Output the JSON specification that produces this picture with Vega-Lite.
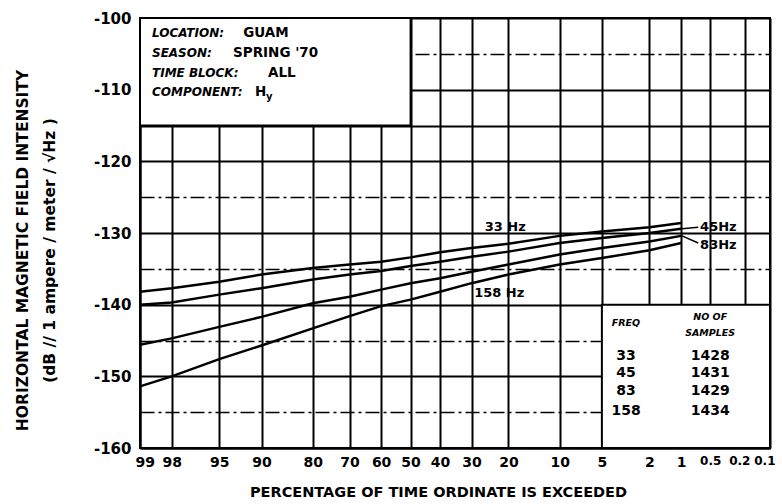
{
  "$schema": "https://vega.github.io/schema/vega-lite/v6.json",
  "width": 630,
  "height": 430,
  "autosize": {"type": "none"},
  "padding": {"left": 140, "top": 18, "right": 12, "bottom": 56},
  "background": "white",
  "config": {"view": {"stroke": "black", "strokeWidth": 2}, "font": "DejaVu Sans"},
  "datasets": {
    "curves": [
      {"freq": "33 Hz", "pct": 99, "db": -138.2}, {"freq": "33 Hz", "pct": 98, "db": -137.7}, {"freq": "33 Hz", "pct": 95, "db": -136.8},
      {"freq": "33 Hz", "pct": 90, "db": -135.8}, {"freq": "33 Hz", "pct": 80, "db": -134.9}, {"freq": "33 Hz", "pct": 70, "db": -134.4},
      {"freq": "33 Hz", "pct": 60, "db": -134.0}, {"freq": "33 Hz", "pct": 50, "db": -133.4}, {"freq": "33 Hz", "pct": 40, "db": -132.7},
      {"freq": "33 Hz", "pct": 30, "db": -132.1}, {"freq": "33 Hz", "pct": 20, "db": -131.5}, {"freq": "33 Hz", "pct": 10, "db": -130.4},
      {"freq": "33 Hz", "pct": 5, "db": -129.8}, {"freq": "33 Hz", "pct": 2, "db": -129.2}, {"freq": "33 Hz", "pct": 1, "db": -128.6},
      {"freq": "45 Hz", "pct": 99, "db": -140.0}, {"freq": "45 Hz", "pct": 98, "db": -139.7}, {"freq": "45 Hz", "pct": 95, "db": -138.6},
      {"freq": "45 Hz", "pct": 90, "db": -137.7}, {"freq": "45 Hz", "pct": 80, "db": -136.5}, {"freq": "45 Hz", "pct": 70, "db": -135.8},
      {"freq": "45 Hz", "pct": 60, "db": -135.3}, {"freq": "45 Hz", "pct": 50, "db": -134.6}, {"freq": "45 Hz", "pct": 40, "db": -134.0},
      {"freq": "45 Hz", "pct": 30, "db": -133.3}, {"freq": "45 Hz", "pct": 20, "db": -132.6}, {"freq": "45 Hz", "pct": 10, "db": -131.4},
      {"freq": "45 Hz", "pct": 5, "db": -130.7}, {"freq": "45 Hz", "pct": 2, "db": -130.0}, {"freq": "45 Hz", "pct": 1, "db": -129.4},
      {"freq": "83 Hz", "pct": 99, "db": -145.6}, {"freq": "83 Hz", "pct": 98, "db": -144.7}, {"freq": "83 Hz", "pct": 95, "db": -143.1},
      {"freq": "83 Hz", "pct": 90, "db": -141.7}, {"freq": "83 Hz", "pct": 80, "db": -139.8}, {"freq": "83 Hz", "pct": 70, "db": -138.9},
      {"freq": "83 Hz", "pct": 60, "db": -137.9}, {"freq": "83 Hz", "pct": 50, "db": -137.0}, {"freq": "83 Hz", "pct": 40, "db": -136.3},
      {"freq": "83 Hz", "pct": 30, "db": -135.4}, {"freq": "83 Hz", "pct": 20, "db": -134.4}, {"freq": "83 Hz", "pct": 10, "db": -133.0},
      {"freq": "83 Hz", "pct": 5, "db": -132.1}, {"freq": "83 Hz", "pct": 2, "db": -131.2}, {"freq": "83 Hz", "pct": 1, "db": -130.4},
      {"freq": "158 Hz", "pct": 99, "db": -151.4}, {"freq": "158 Hz", "pct": 98, "db": -150.0}, {"freq": "158 Hz", "pct": 95, "db": -147.6},
      {"freq": "158 Hz", "pct": 90, "db": -145.7}, {"freq": "158 Hz", "pct": 80, "db": -143.3}, {"freq": "158 Hz", "pct": 70, "db": -141.6},
      {"freq": "158 Hz", "pct": 60, "db": -140.2}, {"freq": "158 Hz", "pct": 50, "db": -139.3}, {"freq": "158 Hz", "pct": 40, "db": -138.2},
      {"freq": "158 Hz", "pct": 30, "db": -137.0}, {"freq": "158 Hz", "pct": 20, "db": -135.8}, {"freq": "158 Hz", "pct": 10, "db": -134.4},
      {"freq": "158 Hz", "pct": 5, "db": -133.5}, {"freq": "158 Hz", "pct": 2, "db": -132.4}, {"freq": "158 Hz", "pct": 1, "db": -131.4}
    ],
    "boxes": [
      {"pct": 99, "pct2": 50, "db": -100, "db2": -115},
      {"pct": 5, "pct2": 0.1, "db": -140, "db2": -160}
    ],
    "pointers": [
      {"pct": 0.98, "pct2": 0.67, "db": -129.4, "db2": -129.2},
      {"pct": 0.98, "pct2": 0.67, "db": -130.4, "db2": -131.4}
    ],
    "notes": [
      {"kind": "key", "pct": 98.69, "db": -102.1, "t": "LOCATION:"},
      {"kind": "key", "pct": 98.69, "db": -104.9, "t": "SEASON:"},
      {"kind": "key", "pct": 98.69, "db": -107.7, "t": "TIME BLOCK:"},
      {"kind": "key", "pct": 98.69, "db": -110.3, "t": "COMPONENT:"},
      {"kind": "val", "pct": 92.5, "db": -102.1, "t": "GUAM"},
      {"kind": "val", "pct": 93.65, "db": -104.9, "t": "SPRING '70"},
      {"kind": "val", "pct": 88.98, "db": -107.7, "t": "ALL"},
      {"kind": "val", "pct": 90.94, "db": -110.3, "t": "H"},
      {"kind": "sub", "pct": 89.3, "db": -111.0, "t": "y"},
      {"kind": "curveC", "pct": 20.8, "db": -129.15, "t": "33 Hz"},
      {"kind": "curveC", "pct": 22.3, "db": -138.4, "t": "158 Hz"},
      {"kind": "curveL", "pct": 0.64, "db": -129.15, "t": "45Hz"},
      {"kind": "curveL", "pct": 0.64, "db": -131.66, "t": "83Hz"},
      {"kind": "head", "pct": 3.2, "db": -142.5, "t": "FREQ"},
      {"kind": "head", "pct": 0.5, "db": -141.7, "t": "NO OF"},
      {"kind": "head", "pct": 0.5, "db": -143.9, "t": "SAMPLES"},
      {"kind": "row", "pct": 3.2, "db": -147.2, "t": "33"},
      {"kind": "row", "pct": 3.2, "db": -149.6, "t": "45"},
      {"kind": "row", "pct": 3.2, "db": -152.1, "t": "83"},
      {"kind": "row", "pct": 3.2, "db": -154.9, "t": "158"},
      {"kind": "row", "pct": 0.5, "db": -147.2, "t": "1428"},
      {"kind": "row", "pct": 0.5, "db": -149.6, "t": "1431"},
      {"kind": "row", "pct": 0.5, "db": -152.1, "t": "1429"},
      {"kind": "row", "pct": 0.5, "db": -154.9, "t": "1434"}
    ]
  },
  "encoding": {
    "x": {
      "field": "z", "type": "quantitative",
      "scale": {"domain": [-2.326348, 3.090232], "nice": false, "zero": false},
      "axis": {
        "values": [-2.326348, -2.053749, -1.644854, -1.281552, -0.841621, -0.524401, -0.253347, 0, 0.253347, 0.524401, 0.841621, 1.281552, 1.644854, 2.053749, 2.326348, 2.575829, 2.878162, 3.090232],
        "labelExpr": "'' + round(1000*(1-cumulativeNormal(datum.value)))/10",
        "labelFont": "DejaVu Sans", "labelFontWeight": "bold", "labelColor": "black",
        "labelFontSize": {"condition": {"test": "datum.value > 2.5", "value": 12}, "value": 14},
        "labelOffset": {"condition": {"test": "datum.value > 2.8 && datum.value < 3", "value": -6}, "value": 0},
        "labelFlush": true, "labelFlushOffset": 5, "labelOverlap": false, "labelPadding": 7,
        "ticks": false, "domain": true, "domainColor": "black", "domainWidth": 2,
        "grid": true, "gridColor": "black", "gridWidth": 2, "gridOpacity": 1,
        "title": "PERCENTAGE OF TIME ORDINATE IS EXCEEDED",
        "titleFont": "DejaVu Sans", "titleFontWeight": "bold", "titleFontSize": 14.5, "titleColor": "black",
        "titleX": 298, "titleY": 44, "titleBaseline": "middle", "titleAlign": "center"
      }
    },
    "y": {
      "field": "db", "type": "quantitative",
      "scale": {"domain": [-160, -100], "nice": false, "zero": false},
      "axis": {
        "values": [-160, -155, -150, -145, -140, -135, -130, -125, -120, -115, -110, -105, -100],
        "labelExpr": "datum.value % 10 === 0 ? '-' + abs(datum.value) : ''",
        "labelFont": "DejaVu Sans", "labelFontWeight": "bold", "labelFontSize": 15, "labelColor": "black",
        "labelPadding": 9, "ticks": false, "domain": true, "domainColor": "black", "domainWidth": 2,
        "grid": true, "gridColor": "black", "gridOpacity": 1,
        "gridWidth": {"condition": {"test": "datum.value % 10 !== 0 && datum.value !== -115", "value": 1.5}, "value": 2},
        "gridDash": {"condition": {"test": "datum.value % 10 !== 0 && datum.value !== -115", "value": [14, 4, 3, 4]}, "value": []},
        "title": ["HORIZONTAL MAGNETIC FIELD INTENSITY", "(dB // 1 ampere / meter / √Hz )"],
        "titleFont": "DejaVu Sans", "titleFontWeight": "bold", "titleFontSize": 15.5, "titleColor": "black",
        "titleAngle": -90, "titleX": -125, "titleY": 232, "titleBaseline": "top", "titleAlign": "center",
        "titleLineHeight": 27
      }
    }
  },
  "layer": [
    {
      "data": {"name": "boxes"},
      "transform": [
        {"calculate": "quantileNormal(1 - datum.pct/100)", "as": "z"},
        {"calculate": "quantileNormal(1 - datum.pct2/100)", "as": "z2"}
      ],
      "mark": {"type": "rect", "fill": "white", "stroke": "black", "strokeWidth": 2},
      "encoding": {
        "x2": {"field": "z2"},
        "y2": {"field": "db2"}
      }
    },
    {
      "data": {"name": "curves"},
      "transform": [{"calculate": "quantileNormal(1 - datum.pct/100)", "as": "z"}],
      "mark": {"type": "line", "color": "black", "strokeWidth": 2.5},
      "encoding": {
        "detail": {"field": "freq"}
      }
    },
    {
      "data": {"name": "pointers"},
      "transform": [
        {"calculate": "quantileNormal(1 - datum.pct/100)", "as": "z"},
        {"calculate": "quantileNormal(1 - datum.pct2/100)", "as": "z2"}
      ],
      "mark": {"type": "rule", "color": "black", "strokeWidth": 1.5},
      "encoding": {
        "x2": {"field": "z2"},
        "y2": {"field": "db2"}
      }
    },
    {
      "data": {"name": "notes"},
      "transform": [
        {"filter": "datum.kind === 'key'"},
        {"calculate": "quantileNormal(1 - datum.pct/100)", "as": "z"}
      ],
      "mark": {"type": "text", "align": "left", "baseline": "middle", "font": "DejaVu Sans", "fontWeight": "bold", "fontStyle": "italic", "fontSize": 12, "color": "black"},
      "encoding": {"text": {"field": "t"}}
    },
    {
      "data": {"name": "notes"},
      "transform": [
        {"filter": "datum.kind === 'val'"},
        {"calculate": "quantileNormal(1 - datum.pct/100)", "as": "z"}
      ],
      "mark": {"type": "text", "align": "left", "baseline": "middle", "font": "DejaVu Sans", "fontWeight": "bold", "fontSize": 13.5, "color": "black"},
      "encoding": {"text": {"field": "t"}}
    },
    {
      "data": {"name": "notes"},
      "transform": [
        {"filter": "datum.kind === 'sub'"},
        {"calculate": "quantileNormal(1 - datum.pct/100)", "as": "z"}
      ],
      "mark": {"type": "text", "align": "left", "baseline": "middle", "font": "DejaVu Sans", "fontWeight": "bold", "fontSize": 10, "color": "black"},
      "encoding": {"text": {"field": "t"}}
    },
    {
      "data": {"name": "notes"},
      "transform": [
        {"filter": "datum.kind === 'curveC'"},
        {"calculate": "quantileNormal(1 - datum.pct/100)", "as": "z"}
      ],
      "mark": {"type": "text", "align": "center", "baseline": "middle", "font": "DejaVu Sans", "fontWeight": "bold", "fontSize": 13, "color": "black"},
      "encoding": {"text": {"field": "t"}}
    },
    {
      "data": {"name": "notes"},
      "transform": [
        {"filter": "datum.kind === 'curveL'"},
        {"calculate": "quantileNormal(1 - datum.pct/100)", "as": "z"}
      ],
      "mark": {"type": "text", "align": "left", "baseline": "middle", "font": "DejaVu Sans", "fontWeight": "bold", "fontSize": 13, "color": "black"},
      "encoding": {"text": {"field": "t"}}
    },
    {
      "data": {"name": "notes"},
      "transform": [
        {"filter": "datum.kind === 'head'"},
        {"calculate": "quantileNormal(1 - datum.pct/100)", "as": "z"}
      ],
      "mark": {"type": "text", "align": "center", "baseline": "middle", "font": "DejaVu Sans", "fontWeight": "bold", "fontStyle": "italic", "fontSize": 9.5, "color": "black"},
      "encoding": {"text": {"field": "t"}}
    },
    {
      "data": {"name": "notes"},
      "transform": [
        {"filter": "datum.kind === 'row'"},
        {"calculate": "quantileNormal(1 - datum.pct/100)", "as": "z"}
      ],
      "mark": {"type": "text", "align": "center", "baseline": "middle", "font": "DejaVu Sans", "fontWeight": "bold", "fontSize": 14, "color": "black"},
      "encoding": {"text": {"field": "t"}}
    }
  ]
}
